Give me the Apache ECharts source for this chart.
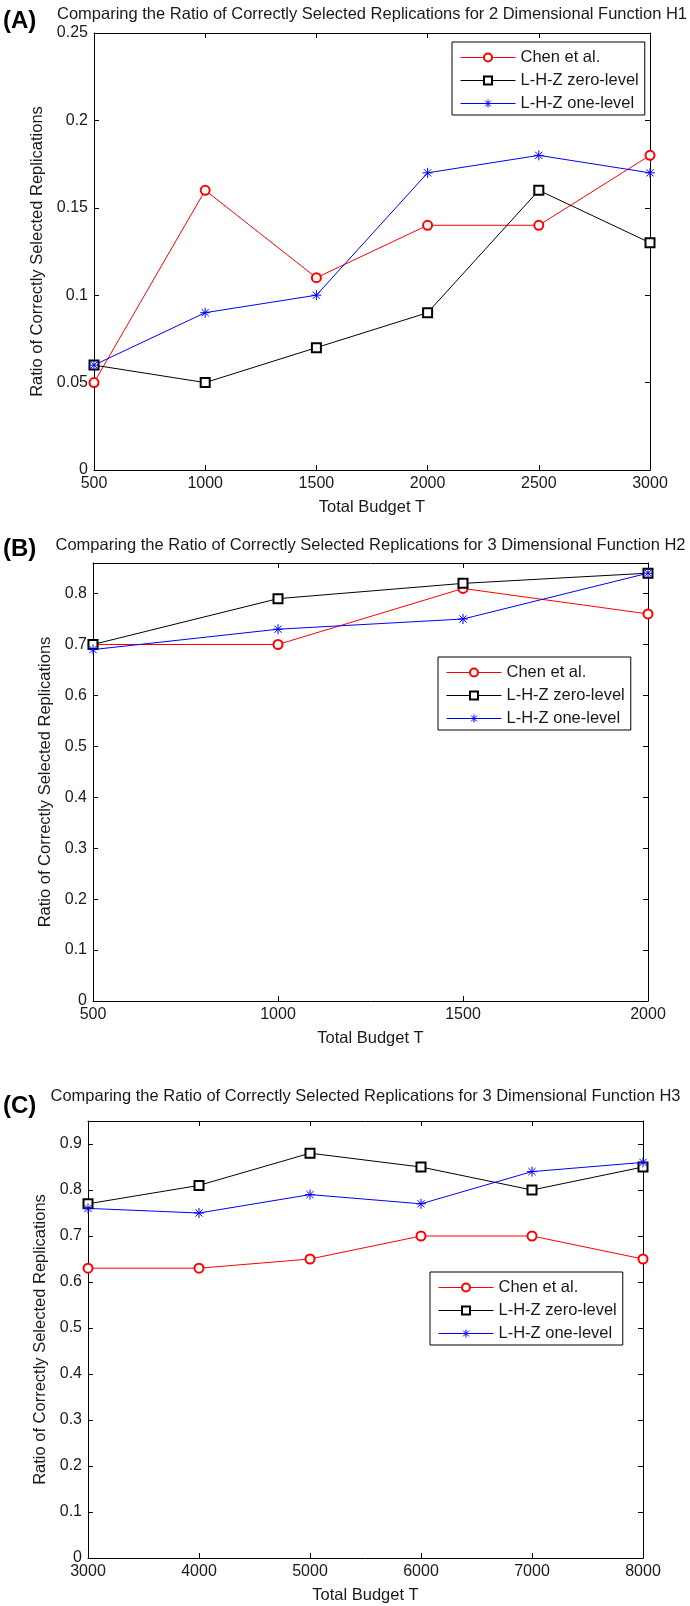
<!DOCTYPE html>
<html><head><meta charset="utf-8">
<script src="https://cdn.jsdelivr.net/npm/echarts@6/dist/echarts.min.js"></script>
<style>html,body{margin:0;padding:0;background:#fff}#c{width:690px;height:1606px}</style>
</head><body><div id="c"></div>
<script>
// ---- data ----
const seriesNames = ['Chen et al.', 'L-H-Z zero-level', 'L-H-Z one-level'];

const budgetA = [500, 1000, 1500, 2000, 2500, 3000];
const chenA   = [0.05, 0.16, 0.11, 0.14, 0.14, 0.18];
const zeroA   = [0.06, 0.05, 0.07, 0.09, 0.16, 0.13];
const oneA    = [0.06, 0.09, 0.10, 0.17, 0.18, 0.17];

const budgetB = [500, 1000, 1500, 2000];
const chenB   = [0.70, 0.70, 0.81, 0.76];
const zeroB   = [0.70, 0.79, 0.82, 0.84];
const oneB    = [0.69, 0.73, 0.75, 0.84];

const budgetC = [3000, 4000, 5000, 6000, 7000, 8000];
const chenC   = [0.63, 0.63, 0.65, 0.70, 0.70, 0.65];
const zeroC   = [0.77, 0.81, 0.88, 0.85, 0.80, 0.85];
const oneC    = [0.76, 0.75, 0.79, 0.77, 0.84, 0.86];

const titles = [
  'Comparing the Ratio of Correctly Selected Replications for 2 Dimensional Function H1',
  'Comparing the Ratio of Correctly Selected Replications for 3 Dimensional Function H2',
  'Comparing the Ratio of Correctly Selected Replications for 3 Dimensional Function H3'
];
const panelTags = ['(A)', '(B)', '(C)'];
const xAxisTitle = 'Total Budget T';
const yAxisTitle = 'Ratio of Correctly Selected Replications';

// ---- layout / style ----
const FF = '"Liberation Sans", Arial, Helvetica, sans-serif';
const TXT = '#1a1a1a';
const colors = ['#ff0000', '#000000', '#0000ff'];
const symbols = ['emptyCircle', 'emptyRect',
  'path://M0,-5L0,5M-5,0L5,0M-3.6,-3.6L3.6,3.6M-3.6,3.6L3.6,-3.6'];
const symbolSizes = [9, 9, 10];

const panels = [
  { grid: {left: 94, top: 33, width: 556, height: 437},
    x: budgetA, ys: [chenA, zeroA, oneA], xMin: 500, xMax: 3000, xInt: 500,
    yMax: 0.25, yInt: 0.05, yNameGap: 46,
    legend: {left: 452, top: 42},
    titleY: 14, tagY: 21 },
  { grid: {left: 93, top: 563, width: 555, height: 438},
    x: budgetB, ys: [chenB, zeroB, oneB], xMin: 500, xMax: 2000, xInt: 500,
    yMax: 0.86, yInt: 0.1, yNameGap: 38,
    legend: {left: 438, top: 657},
    titleY: 545, tagY: 549 },
  { grid: {left: 88, top: 1121, width: 555, height: 437},
    x: budgetC, ys: [chenC, zeroC, oneC], xMin: 3000, xMax: 8000, xInt: 1000,
    yMax: 0.95, yInt: 0.1, yNameGap: 37,
    legend: {left: 430, top: 1272},
    titleY: 1096, tagY: 1106 }
];

const axLine = {show: true, onZero: false, lineStyle: {color: '#000', width: 1}};
const axTick = {show: true, inside: true, length: 5, lineStyle: {color: '#000', width: 1}};
const labelStyle = {fontSize: 16, color: TXT, fontFamily: FF, margin: 6};

const option = {
  animation: false,
  backgroundColor: '#fff',
  grid: [], xAxis: [], yAxis: [], series: [], legend: [], graphic: []
};

panels.forEach((p, i) => {
  option.grid.push(Object.assign({outerBoundsMode: 'none', containLabel: false, show: false}, p.grid));
  const xBase = {type: 'value', gridIndex: i, min: p.xMin, max: p.xMax, interval: p.xInt,
    axisLine: axLine, axisTick: axTick, splitLine: {show: false}};
  option.xAxis.push(Object.assign({}, xBase, {
    position: 'bottom',
    axisLabel: Object.assign({showMinLabel: true, showMaxLabel: true,
      formatter: v => String(v)}, labelStyle),
    name: xAxisTitle, nameLocation: 'middle', nameGap: 29,
    nameTextStyle: {fontSize: 16.5, color: TXT, fontFamily: FF}
  }));
  option.xAxis.push(Object.assign({}, xBase, {position: 'top', axisLabel: {show: false}}));
  const yBase = {type: 'value', gridIndex: i, min: 0, max: p.yMax, interval: p.yInt,
    axisLine: axLine, axisTick: axTick, splitLine: {show: false}};
  option.yAxis.push(Object.assign({}, yBase, {
    position: 'left',
    axisLabel: Object.assign({showMinLabel: true, showMaxLabel: p.yMax === 0.25}, labelStyle),
    name: yAxisTitle, nameLocation: 'middle', nameGap: p.yNameGap, nameRotate: 90,
    nameTextStyle: {fontSize: 16.5, color: TXT, fontFamily: FF}
  }));
  option.yAxis.push(Object.assign({}, yBase, {position: 'right', axisLabel: {show: false}}));

  p.ys.forEach((vals, k) => {
    option.series.push({
      type: 'line', name: seriesNames[k],
      xAxisIndex: 2 * i, yAxisIndex: 2 * i,
      data: p.x.map((xv, j) => [xv, vals[j]]),
      symbol: symbols[k], symbolSize: symbolSizes[k], showAllSymbol: true,
      clip: false,
      lineStyle: {color: colors[k], width: 1},
      itemStyle: {color: colors[k], borderColor: colors[k], borderWidth: 1},
      emphasis: {disabled: true}
    });
  });

  option.legend.push({
    show: true, orient: 'vertical', left: p.legend.left, top: p.legend.top,
    data: seriesNames, selectedMode: false,
    itemWidth: 55, itemHeight: 10, itemGap: 6,
    padding: [7, 6, 3, 8],
    backgroundColor: '#fff', borderColor: '#000', borderWidth: 1, borderRadius: 0,
    itemStyle: {borderWidth: 1},
    lineStyle: {width: 1},
    textStyle: {fontSize: 16.5, color: TXT, fontFamily: FF, lineHeight: 16}
  });

  const cx = p.grid.left + p.grid.width / 2;
  option.graphic.push({
    type: 'text', x: cx, y: p.titleY, silent: true,
    style: {text: titles[i], fontSize: 16.5, fontFamily: FF, fill: TXT,
      align: 'center', verticalAlign: 'middle'}
  });
  option.graphic.push({
    type: 'text', x: 3, y: p.tagY, silent: true,
    style: {text: panelTags[i], fontSize: 24, fontWeight: 'bold', fontFamily: FF, fill: '#000',
      align: 'left', verticalAlign: 'middle'}
  });
});

const chart = echarts.init(document.getElementById('c'), null, {renderer: 'canvas'});
chart.setOption(option);
</script>
</body></html>
